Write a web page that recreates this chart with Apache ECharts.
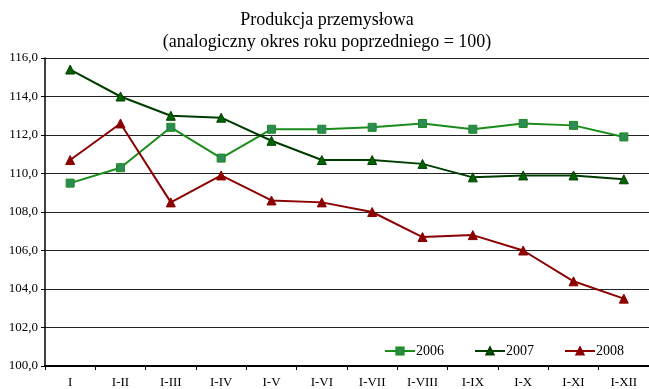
<!DOCTYPE html>
<html><head><meta charset="utf-8">
<script src="https://cdn.jsdelivr.net/npm/echarts@6/dist/echarts.min.js"></script>
<style>html,body{margin:0;padding:0;background:#fff}#c{width:649px;height:389px}</style>
</head><body><div id="c"></div>
<script>
var categories = ['I','I-II','I-III','I-IV','I-V','I-VI','I-VII','I-VIII','I-IX','I-X','I-XI','I-XII'];
var s2006 = [109.5,110.3,112.4,110.8,112.3,112.3,112.4,112.6,112.3,112.6,112.5,111.9];
var s2007 = [115.4,114.0,113.0,112.9,111.7,110.7,110.7,110.5,109.8,109.9,109.9,109.7];
var s2008 = [110.7,112.6,108.5,109.9,108.6,108.5,108.0,106.7,106.8,106.0,104.4,103.5];
var titleLines = ['Produkcja przemysłowa','(analogiczny okres roku poprzedniego = 100)'];

var font = '"Liberation Serif", "DejaVu Serif", serif';
var chart = echarts.init(document.getElementById('c'), null, {renderer:'canvas'});
function ser(name, data, color, fill, sym, size){
  return {name:name, type:'line', data:data, symbol:sym, symbolSize:size,
    lineStyle:{color:color, width:2}, itemStyle:{color:fill, borderColor:color, borderWidth:1},
    emphasis:{disabled:true}, animation:false};
}
chart.setOption({
  animation:false,
  title:{text:titleLines.join('\n'), left:322, top:4, textAlign:'center',
    textStyle:{fontFamily:font, fontSize:18, fontWeight:'normal', color:'#000', lineHeight:22}},
  legend:{left:379, top:339, itemGap:30, itemWidth:30, itemHeight:9,
    textStyle:{fontFamily:font, fontSize:14, color:'#000', padding:[0,0,0,-4]},
    data:['2006','2007','2008']},
  grid:{left:45, top:58, width:605, height:310},
  xAxis:{type:'category', data:categories, boundaryGap:true,
    axisLine:{lineStyle:{color:'#000', width:2}},
    axisTick:{show:true, length:4, lineStyle:{color:'#000'}},
    axisLabel:{fontFamily:font, fontSize:13, color:'#000', margin:10}},
  yAxis:{type:'value', min:100, max:116, interval:2,
    axisLine:{show:true, lineStyle:{color:'#000', width:1.5}},
    axisTick:{show:true, length:4, lineStyle:{color:'#000'}},
    splitLine:{lineStyle:{color:'#222', width:1}},
    axisLabel:{fontFamily:font, fontSize:13, color:'#000', margin:7,
      formatter:function(v){return v.toFixed(1).replace('.',',');}}},
  series:[
    ser('2006', s2006, '#1a8c1a', '#2e8b57', 'rect', 8),
    ser('2007', s2007, '#003d00', '#006400', 'triangle', 9),
    ser('2008', s2008, '#8b0000', '#8b0000', 'triangle', 9)
  ]
});
</script></body></html>
